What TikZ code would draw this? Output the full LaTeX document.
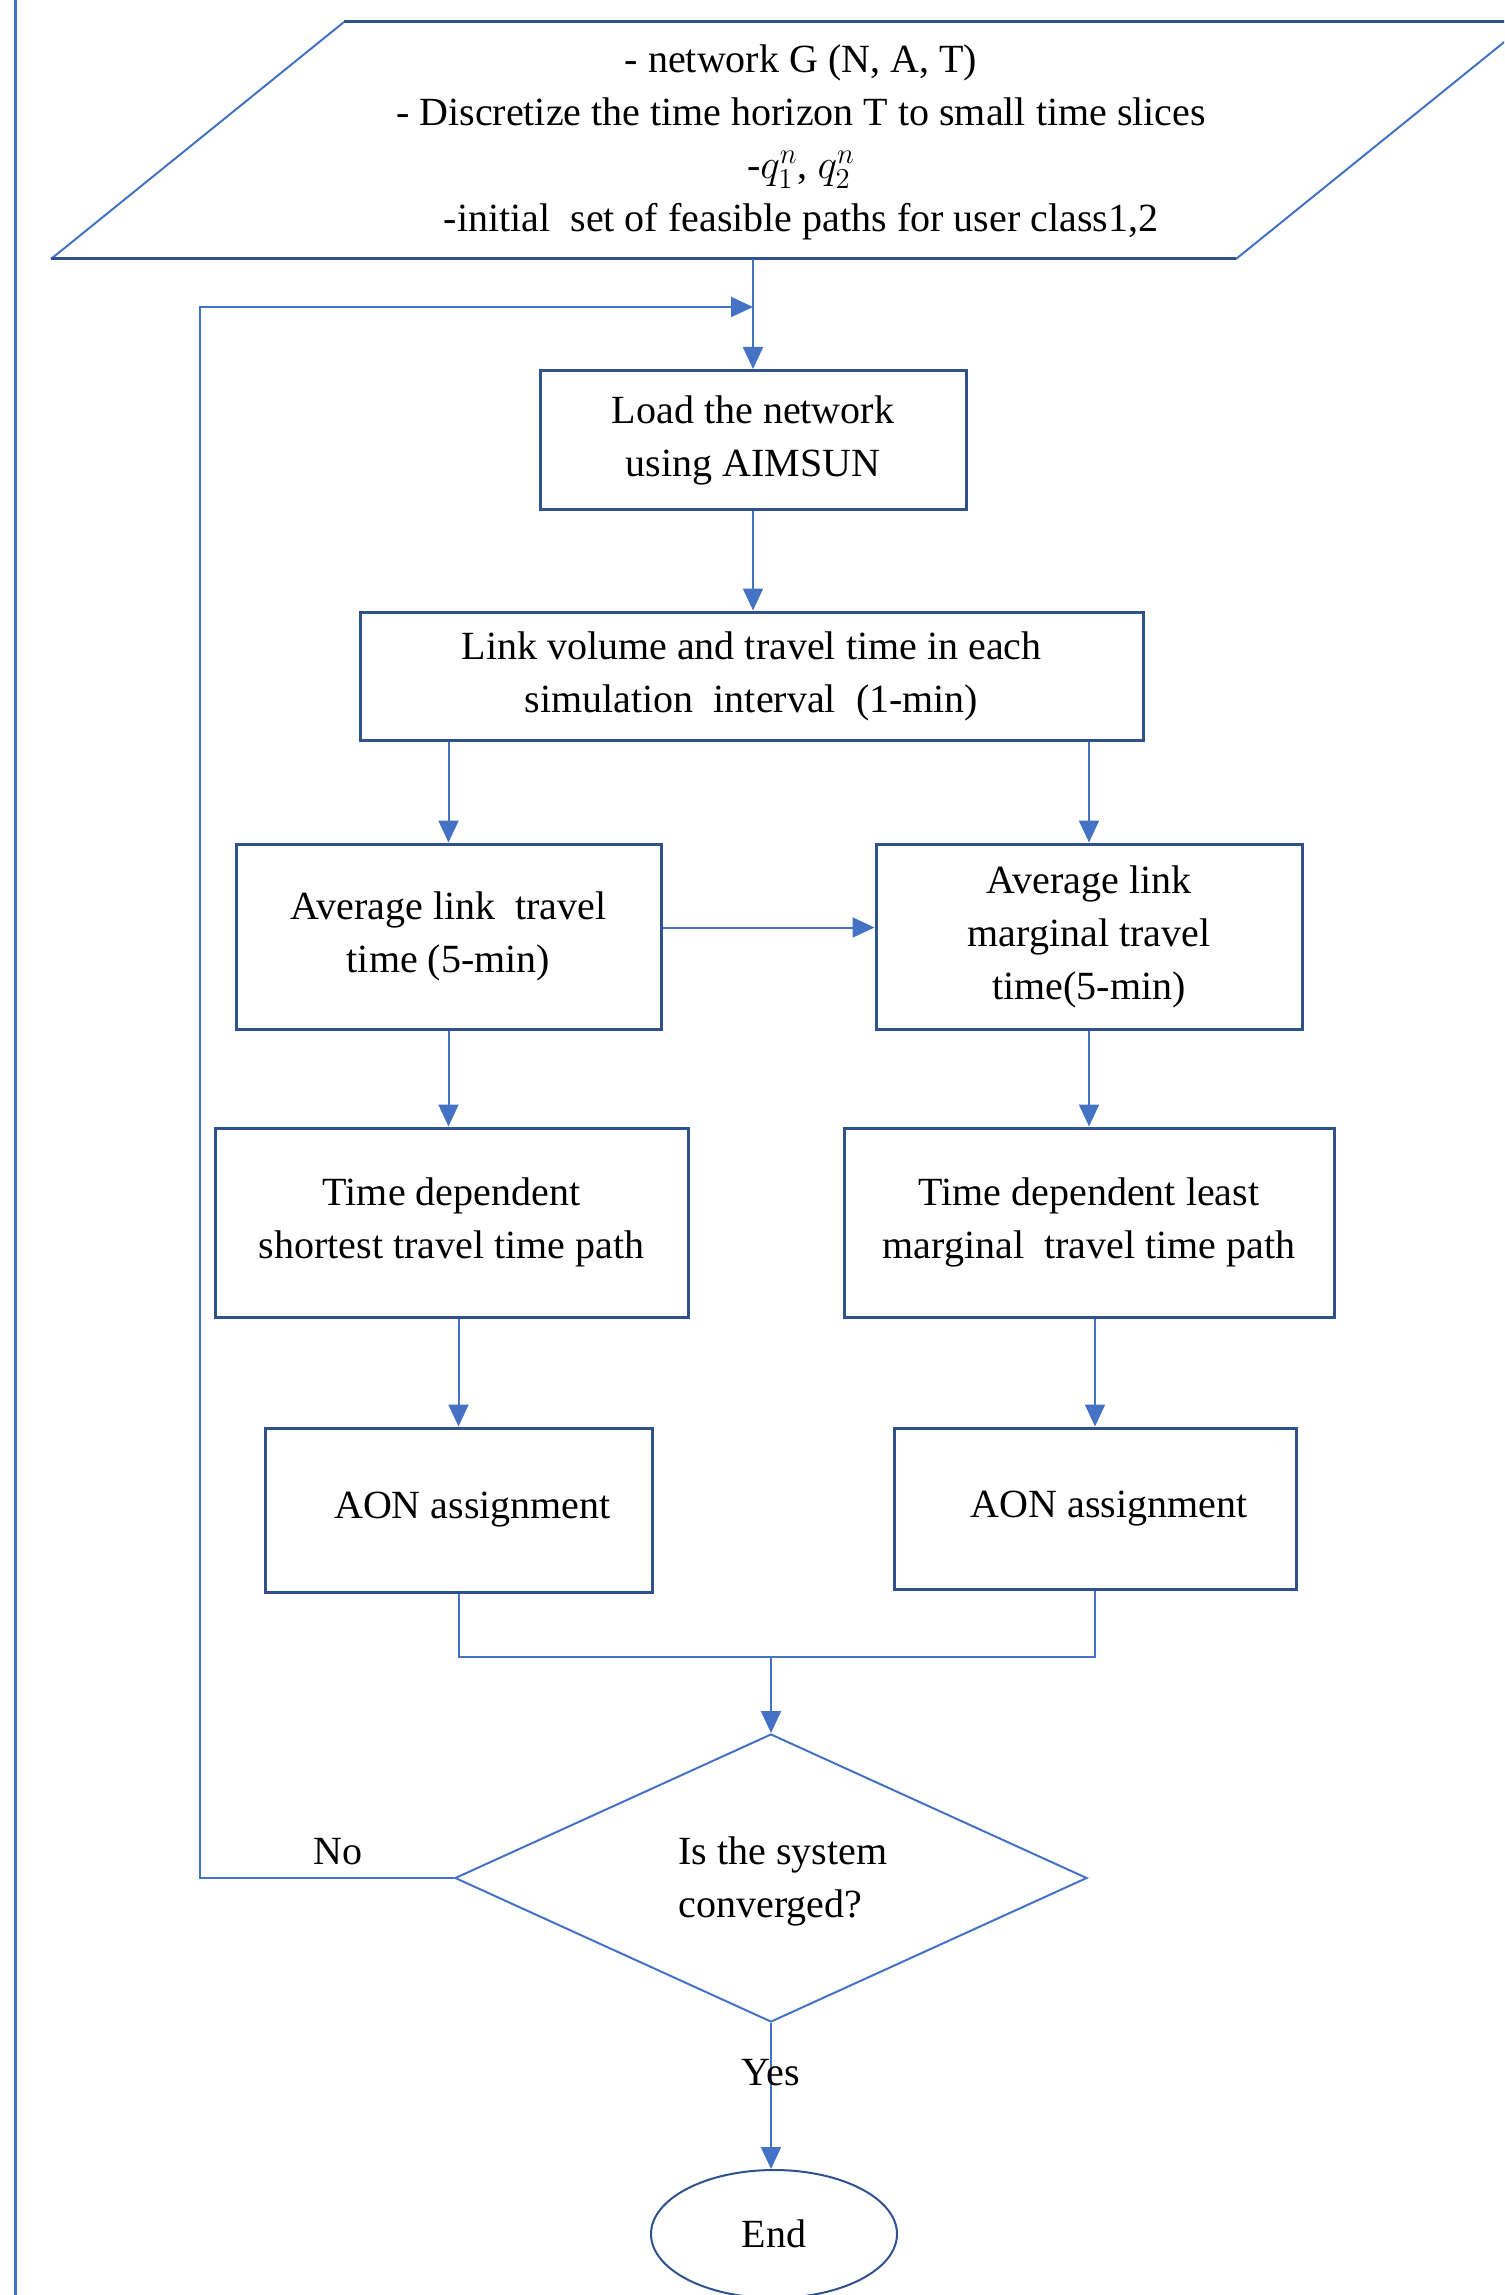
\documentclass[tikz,border=0pt]{standalone}
\usepackage{fontspec}
\setmainfont{Liberation Serif}
\usetikzlibrary{arrows.meta,shapes.geometric,calc}
\definecolor{dkb}{HTML}{2F528F}
\definecolor{ltb}{HTML}{4472C4}
\begin{document}
\begin{tikzpicture}[x=0.5pt,y=-0.5pt,
  txt/.style={font=\fontsize{20}{26.5}\selectfont,align=center,inner sep=0pt},
  box/.style={txt,draw=dkb,line width=1.5pt,rectangle},
  arr/.style={draw=ltb,line width=1pt,-{Triangle[length=11pt,width=10pt]}},
  ln/.style={draw=ltb,line width=1pt}]
\useasboundingbox (0,0) rectangle (1504,2295);
\clip (0,0) rectangle (1504,2295);
% left border line
\draw[ltb,line width=1.5pt] (15,0) -- (15,2295);
% input parallelogram
\draw[ltb,line width=1pt] (51,259) -- (344,22);
\draw[ltb,line width=1pt] (1236,259) -- (1529,22);
\draw[dkb,line width=1.5pt] (344,22) -- (1529,22);
\draw[dkb,line width=1.5pt] (51,259) -- (1236,259);
\node[txt] (inp) at (801,142) {- network G (N, A, T)\\- Discretize the time horizon T to small time slices\\-$q_1^n$, $q_2^n$\\-initial\ \ set of feasible paths for user class1,2};
\coordinate (pb) at (753,259);
\coordinate (fbin) at (753,307);
% boxes
\node[box,minimum width=213pt,minimum height=69.5pt] (Load) at (753,440) {Load the network\\using AIMSUN};
\node[box,minimum width=391.5pt,minimum height=64pt] (Link) at (751.5,676) {Link volume and travel time in each\\simulation\ \ interval\ \ (1-min)};
\node[box,minimum width=212.5pt,minimum height=92.5pt] (AvgL) at (448.5,936.5) {Average link\ \ travel\\time (5-min)};
\node[box,minimum width=213pt,minimum height=92.5pt] (AvgR) at (1089,936.5) {Average link\\marginal travel\\time(5-min)};
\node[box,minimum width=236.5pt,minimum height=94.5pt] (TDL) at (451.5,1222.5) {Time dependent\\shortest travel time path};
\node[box,minimum width=245pt,minimum height=94.5pt] (TDR) at (1089,1222.5) {Time dependent least\\marginal\ \ travel time path};
\node[box,minimum width=193.5pt,minimum height=82pt] (AONL) at (458.5,1510) {\hspace*{14pt}AON assignment};
\node[box,minimum width=201pt,minimum height=80.5pt] (AONR) at (1095,1508.5) {\hspace*{14pt}AON assignment};
\node[diamond,draw=ltb,line width=1pt,minimum width=316pt,minimum height=144pt,inner sep=0pt] (Dia) at (771,1878) {};
\node[txt,align=left] (DiaT) at (783,1881) {Is the system\\converged?};
\node[ellipse,draw=dkb,line width=1pt,minimum width=123pt,minimum height=64pt,inner sep=0pt,txt] (End) at (774,2234) {End};
% connectors
\draw[arr] (pb) -- (pb |- Load.north);
\draw[arr] (Load.south) -- (Load.south |- Link.north);
\draw[arr] (Link.south -| AvgL.north) -- (AvgL.north);
\draw[arr] (Link.south -| AvgR.north) -- (AvgR.north);
\draw[arr] ([yshift=4.5pt]AvgL.east) -- ([yshift=4.5pt]AvgL.east -| AvgR.west);
\draw[arr] (AvgL.south) -- (AvgL.south |- TDL.north);
\draw[arr] (AvgR.south) -- (AvgR.south |- TDR.north);
\draw[arr] (TDL.south -| AONL.north) -- (AONL.north);
\draw[arr] (TDR.south -| AONR.north) -- (AONR.north);
\draw[ln] (AONL.south) -- ++(0,63) coordinate (m1) -| (AONR.south);
\draw[arr] (m1 -| Dia.north) -- (Dia.north);
\draw[arr] (Dia.south) -- (Dia.south |- End.north) node[txt,pos=0.34] (yes) {Yes};
\draw[arr] (Dia.west) -| (200,307) -- (fbin);
\node[txt] (no) at (338,1852) {No};
\end{tikzpicture}
\end{document}
